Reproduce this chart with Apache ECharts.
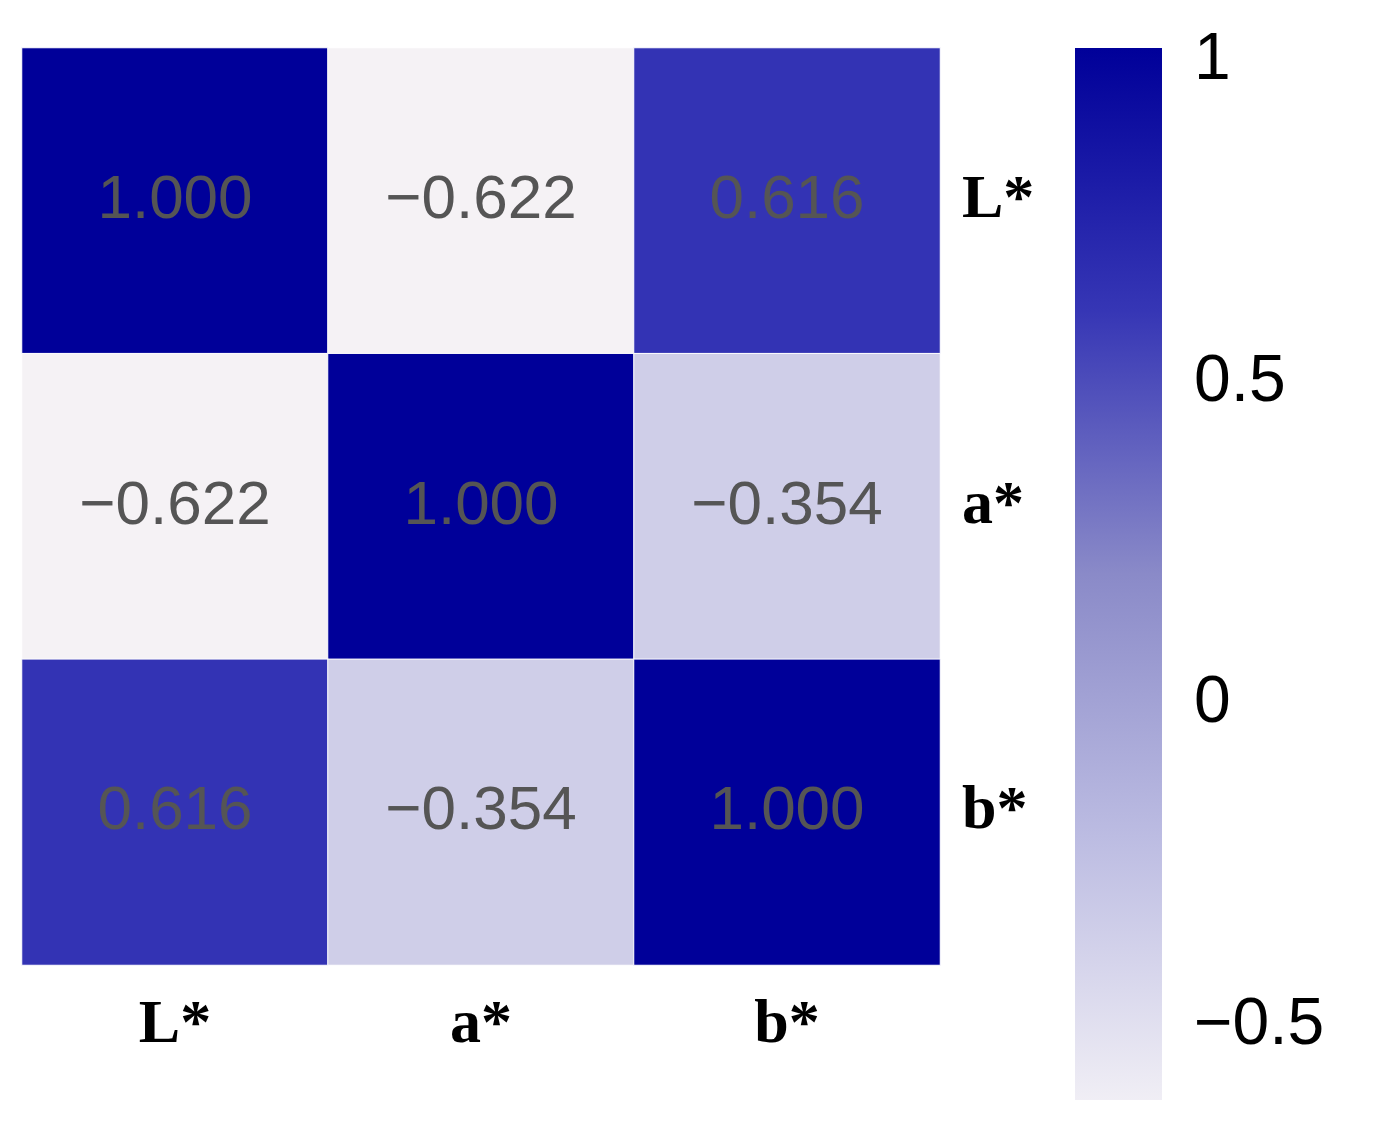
<!DOCTYPE html>
<html><head><meta charset="utf-8">
<script src="https://cdn.jsdelivr.net/npm/echarts@6/dist/echarts.min.js"></script>
<style>html,body{margin:0;background:#fff}#c{width:1382px;height:1128px}</style>
</head><body><div id="c"></div>
<script>
const categories = ['L*', 'a*', 'b*'];
const matrix = [
  [1.000, -0.622, 0.616],
  [-0.622, 1.000, -0.354],
  [0.616, -0.354, 1.000]
];
const colorbarTicks = [-0.5, 0, 0.5, 1];
const data = [];
matrix.forEach((row, i) => row.forEach((v, j) => data.push([j, i, v])));
const colors = ['#f5f2f5', '#bcbce2', '#8a8ac8', '#3636b5', '#000099'];
const chart = echarts.init(document.getElementById('c'));
chart.setOption({
  backgroundColor: '#fff',
  grid: [
    {left: 22, top: 48, width: 918, height: 917},
    {left: 1075, top: 48, width: 87, height: 1052, show: true, borderWidth: 0,
     backgroundColor: new echarts.graphic.LinearGradient(0, 0, 0, 1, [
       {offset: 0, color: '#000099'}, {offset: 0.25, color: '#3636b5'},
       {offset: 0.5, color: '#8a8ac8'}, {offset: 0.75, color: '#bcbce2'},
       {offset: 1, color: '#f0eef5'}])}
  ],
  xAxis: [
    {type: 'category', data: categories, gridIndex: 0, axisLine: {show: false}, axisTick: {show: false},
     axisLabel: {fontFamily: 'Liberation Serif', fontWeight: 'bold', fontSize: 62, color: '#000', margin: 30}},
    {type: 'value', gridIndex: 1, show: false, min: 0, max: 1}
  ],
  yAxis: [
    {type: 'category', data: categories, gridIndex: 0, inverse: true, position: 'right',
     axisLine: {show: false}, axisTick: {show: false},
     axisLabel: {fontFamily: 'Liberation Serif', fontWeight: 'bold', fontSize: 62, color: '#000', margin: 22}},
    {type: 'value', gridIndex: 1, position: 'right', min: -0.615, max: 1.02, interval: 0.5,
     splitLine: {show: false}, axisLine: {show: false}, axisTick: {show: false},
     axisLabel: {fontFamily: 'Liberation Sans', fontSize: 66, color: '#000', margin: 32,
       customValues: colorbarTicks,
       formatter: v => String(v).replace('-', '\u2212')}}
  ],
  visualMap: {show: false, min: -0.622, max: 1, seriesIndex: 0, inRange: {color: colors}},
  series: [{
    type: 'heatmap', xAxisIndex: 0, yAxisIndex: 0, data: data,
    label: {show: true, fontFamily: 'Liberation Sans', fontSize: 62, color: '#555',
      formatter: p => p.value[2].toFixed(3).replace('-', '\u2212')},
    itemStyle: {borderColor: '#fff', borderWidth: 1}
  }]
});
</script></body></html>
